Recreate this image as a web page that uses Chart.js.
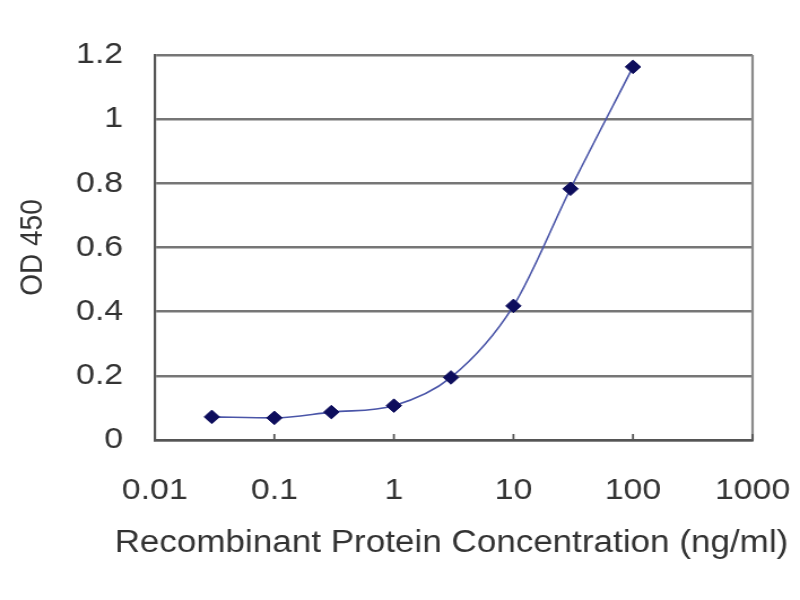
<!DOCTYPE html>
<html lang="en">
<head>
<meta charset="UTF-8">
<title>OD 450 vs Recombinant Protein Concentration</title>
<script src="https://cdn.jsdelivr.net/npm/chart.js"></script>
<style>
  html, body { margin: 0; padding: 0; background: #fff; }
  #wrap { width: 800px; height: 600px; }
  /* the source picture is stretched a little sideways, so draw narrower and widen */
  #odChart { width: 800px; height: 600px; }
</style>
</head>
<body>
<div id="wrap"><canvas id="odChart" width="708" height="600" style="width:800px;height:600px"></canvas></div>

<script>
// concentrations (ng/ml) and measured OD 450
const concentrations = [0.03, 0.1, 0.3, 1, 3, 10, 30, 100];
const odValues = [0.072, 0.069, 0.087, 0.107, 0.195, 0.418, 0.783, 1.163];

// axis ticks
const xTicks = [0.01, 0.1, 1, 10, 100, 1000];
const xTickLabels = ['0.01', '0.1', '1', '10', '100', '1000'];
const yTicks = [0, 0.2, 0.4, 0.6, 0.8, 1, 1.2];
const yTickLabels = ['0', '0.2', '0.4', '0.6', '0.8', '1', '1.2'];

const xTitle = 'Recombinant Protein Concentration (ng/ml)';
const yTitle = 'OD 450';

const FONT = "'Liberation Sans', Arial, sans-serif";
const TEXT = '#333333';

// plot frame, inside tick marks on the x axis, and the x title
// (Chart.js squeezes a scale title to the axis width; this one is wider than the plot)
const framePlugin = {
    id: 'frame',
    afterDatasetsDraw(chart) {
        const { ctx, chartArea: a, scales } = chart;
        ctx.save();
        ctx.strokeStyle = '#8a8a8a';
        ctx.lineWidth = 2.2;
        ctx.beginPath();
        ctx.moveTo(a.right, a.top);
        ctx.lineTo(a.right, a.bottom);
        ctx.stroke();

        ctx.strokeStyle = '#555555';
        ctx.lineWidth = 1.8;
        xTicks.forEach(v => {
            const x = scales.x.getPixelForValue(v);
            ctx.beginPath();
            ctx.moveTo(x, a.bottom);
            ctx.lineTo(x, a.bottom - 6);
            ctx.stroke();
        });
        ctx.restore();
    },
    afterDraw(chart) {
        const { ctx, chartArea: a } = chart;
        ctx.save();
        ctx.fillStyle = TEXT;
        ctx.font = `31px ${FONT}`;
        ctx.textAlign = 'center';
        ctx.textBaseline = 'alphabetic';
        ctx.fillText(xTitle, (a.left + a.right) / 2 - 2, a.bottom + 112);
        ctx.restore();
    }
};

const ctx = document.getElementById('odChart').getContext('2d');
new Chart(ctx, {
    type: 'line',
    data: {
        datasets: [{
            label: yTitle,
            data: concentrations.map((c, i) => ({ x: c, y: odValues[i] })),
            borderColor: '#4a55a8',
            borderWidth: 1.6,
            cubicInterpolationMode: 'monotone',
            pointStyle: 'rectRot',
            pointRadius: 6.8,
            pointBackgroundColor: '#0d0d5c',
            pointBorderColor: '#0d0d5c',
            pointBorderWidth: 1,
            fill: false
        }]
    },
    options: {
        responsive: false,
        animation: false,
        layout: { padding: { left: 0, right: 42, top: 55, bottom: 0 } },
        plugins: {
            legend: { display: false },
            tooltip: { enabled: false }
        },
        scales: {
            x: {
                type: 'logarithmic',
                min: 0.01,
                max: 1000,
                afterFit: s => { s.height = 160; s.paddingLeft = 0; s.paddingRight = 0; },
                afterBuildTicks: s => { s.ticks = xTicks.map(v => ({ value: v })); },
                ticks: {
                    autoSkip: false,
                    maxRotation: 0,
                    padding: 33,
                    color: TEXT,
                    font: { family: FONT, size: 30 },
                    callback: (v, i) => xTickLabels[i]
                },
                grid: { drawOnChartArea: false, drawTicks: false },
                border: { display: true, color: '#555555', width: 2.5 },
                title: { display: false }
            },
            y: {
                min: 0,
                max: 1.2,
                afterFit: s => { s.width = 137; s.paddingTop = 0; s.paddingBottom = 0; },
                afterBuildTicks: s => { s.ticks = yTicks.map(v => ({ value: v })); },
                ticks: {
                    padding: 28,
                    color: TEXT,
                    font: { family: FONT, size: 30 },
                    callback: (v, i) => yTickLabels[i]
                },
                grid: {
                    color: '#767676',
                    lineWidth: 2.6,
                    drawTicks: false
                },
                border: { display: true, color: '#555555', width: 2.2 },
                title: {
                    display: true,
                    text: yTitle,
                    color: TEXT,
                    font: { family: FONT, size: 28 },
                    padding: { top: 12, bottom: 0 }
                }
            }
        }
    },
    plugins: [framePlugin]
});
</script>
</body>
</html>
